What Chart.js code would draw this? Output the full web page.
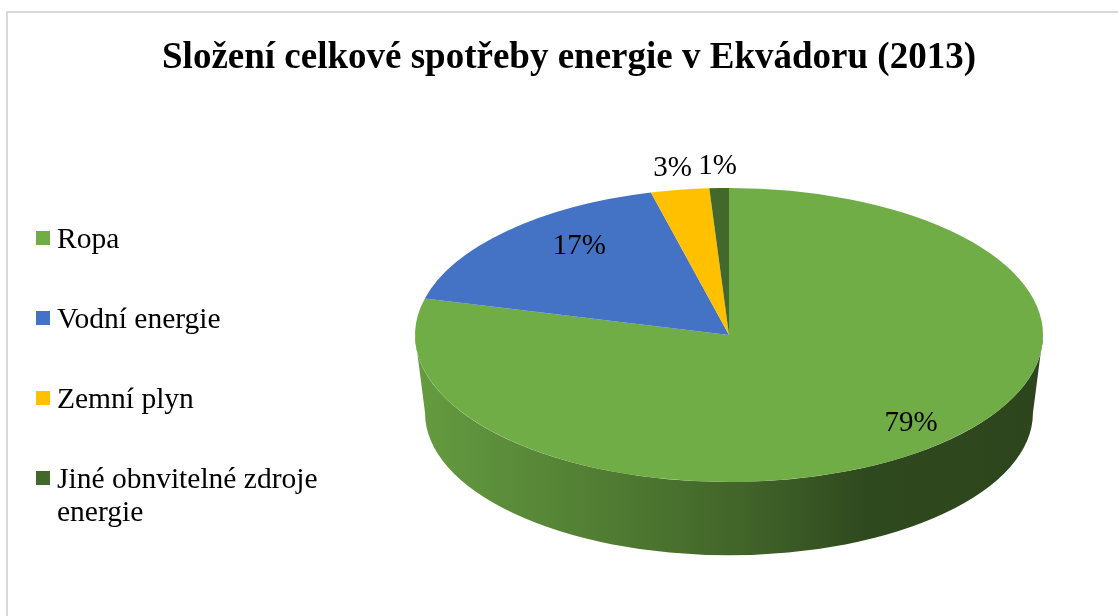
<!DOCTYPE html>
<html lang="cs">
<head>
<meta charset="utf-8">
<title>Složení celkové spotřeby energie v Ekvádoru (2013)</title>
<script src="https://cdn.jsdelivr.net/npm/chart.js@4.4.1/dist/chart.umd.min.js"></script>
<style>
  html, body { margin: 0; padding: 0; background: #fff; overflow: hidden; }
  canvas { display: block; }
</style>
</head>
<body>
<canvas id="chartEnergie" width="1118" height="616"></canvas>
<script>
// ── DATA ─────────────────────────────────────────
const kategorie = ['Ropa', 'Vodní energie', 'Zemní plyn', 'Jiné obnvitelné zdroje energie'];
const podily    = [79, 17, 3, 1];
const barvy     = ['#70AD47', '#4472C4', '#FFC000', '#43682B'];
const titulek   = 'Složení celkové spotřeby energie v Ekvádoru (2013)';

// ── Vzhled „3D" koláče ───────────────────────────
const PIE  = { cx: 729, cy: 335, rx: 314, ry: 147, depth: 78, shrink: 0.968 };
const FONT = '"Liberation Serif", "Times New Roman", serif';

function shade(hex, f) {
  const n = parseInt(hex.slice(1), 16);
  const r = Math.round(((n >> 16) & 255) * f);
  const g = Math.round(((n >> 8) & 255) * f);
  const b = Math.round((n & 255) * f);
  return `rgb(${r},${g},${b})`;
}

// boční stěna – jen přední polovina (úhly 0..π na plátně)
function frontParts(a0, a1) {
  const out = [];
  for (const k of [-2 * Math.PI, 0, 2 * Math.PI]) {
    const s = Math.max(a0 + k, 0), e = Math.min(a1 + k, Math.PI);
    if (e > s) out.push([s, e]);
  }
  return out;
}

const pie3d = {
  id: 'pie3d',
  beforeDraw(chart) {
    const c = chart.ctx;
    c.save();
    c.fillStyle = '#fff';
    c.fillRect(0, 0, chart.width, chart.height);
    // rámeček grafu
    c.strokeStyle = '#d9d9d9';
    c.lineWidth = 2;
    c.beginPath();
    c.moveTo(7, chart.height);
    c.lineTo(7, 12);
    c.lineTo(chart.width, 12);
    c.stroke();
    c.restore();
  },
  beforeDatasetsDraw(chart) {
    const c = chart.ctx;
    const arcs = chart.getDatasetMeta(0).data;
    const { cx, cy, rx, ry, depth, shrink } = PIE;

    c.save();
    arcs.forEach((arc, i) => {
      const col = barvy[i];
      const grad = c.createLinearGradient(cx - rx, 0, cx + rx, 0);
      grad.addColorStop(0,    shade(col, 0.9));
      grad.addColorStop(0.3,  shade(col, 0.72));
      grad.addColorStop(0.55, shade(col, 0.56));
      grad.addColorStop(0.72, shade(col, 0.42));
      grad.addColorStop(1,    shade(col, 0.4));
      frontParts(arc.startAngle, arc.endAngle).forEach(([s, e]) => {
        c.beginPath();
        c.ellipse(cx, cy, rx, ry, 0, s, e);
        c.ellipse(cx, cy + depth, rx * shrink, ry * shrink, 0, e, s, true);
        c.closePath();
        c.fillStyle = grad;
        c.fill();
      });
    });
    c.restore();

    // horní plocha – koláč z Chart.js zploštěný do elipsy
    const a = arcs[0];
    const R = a.outerRadius;
    c.save();
    c.translate(cx, cy);
    c.scale(rx / R, ry / R);
    c.translate(-a.x, -a.y);
  },
  afterDatasetsDraw(chart) {
    const c = chart.ctx;
    c.restore();

    const arcs = chart.getDatasetMeta(0).data;
    const total = podily.reduce((s, v) => s + v, 0);
    const { cx, cy, rx, ry } = PIE;

    // popisky hodnot
    c.save();
    c.font = `29px ${FONT}`;
    c.fillStyle = '#000';
    c.textAlign = 'center';
    c.textBaseline = 'middle';
    arcs.forEach((arc, i) => {
      const mid = (arc.startAngle + arc.endAngle) / 2;
      const small = podily[i] / total < 0.05;
      const r = small ? 1.15 : 0.8;
      const x = cx + Math.cos(mid) * r * rx + (small ? 0 : 28);
      const y = cy + Math.sin(mid) * r * ry - (small ? 0 : 5);
      c.fillText(Math.round(podily[i] / total * 100) + '%', x, y);
    });
    c.restore();

    // legenda vlevo
    c.save();
    c.font = `29.5px ${FONT}`;
    c.fillStyle = '#000';
    c.textAlign = 'left';
    c.textBaseline = 'alphabetic';
    const maxW = 275;
    kategorie.forEach((lbl, i) => {
      const base = 248 + i * 80;
      c.fillStyle = barvy[i];
      c.fillRect(36, base - 17, 14, 14);
      c.fillStyle = '#000';
      // zalomení dlouhých položek
      const words = lbl.split(' ');
      const lines = [];
      let line = '';
      words.forEach(w => {
        const t = line ? line + ' ' + w : w;
        if (c.measureText(t).width > maxW && line) { lines.push(line); line = w; }
        else line = t;
      });
      lines.push(line);
      lines.forEach((t, j) => c.fillText(t, 57, base + j * 33));
    });
    c.restore();
  }
};

new Chart(document.getElementById('chartEnergie'), {
  type: 'pie',
  data: {
    labels: kategorie,
    datasets: [{
      data: podily,
      backgroundColor: barvy,
      borderWidth: 0,
      clip: false
    }]
  },
  options: {
    responsive: false,
    animation: false,
    layout: { padding: { left: 20 } },
    plugins: {
      legend: { display: false },
      tooltip: { enabled: false },
      title: {
        display: true,
        text: titulek,
        color: '#000',
        font: { family: FONT, size: 37, weight: 'bold' },
        padding: { top: 36, bottom: 10 }
      }
    }
  },
  plugins: [pie3d]
});
</script>
</body>
</html>
